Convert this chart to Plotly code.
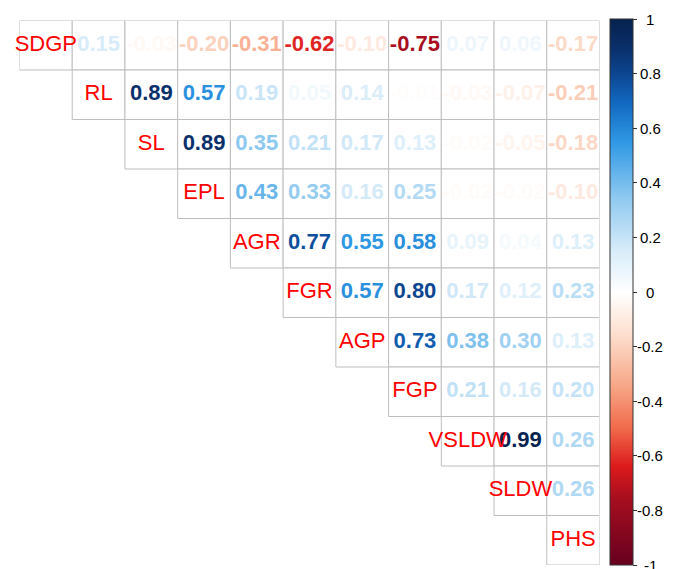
import plotly.graph_objects as go
from plotly.colors import sample_colorscale

# variable names (diagonal labels)
labels = ["SDGP", "RL", "SL", "EPL", "AGR", "FGR", "AGP", "FGP", "VSLDW", "SLDW", "PHS"]

# upper triangle correlations, one list per row (columns right of the diagonal)
r_sdgp = [0.15, -0.03, -0.20, -0.31, -0.62, -0.10, -0.75, 0.07, 0.06, -0.17]
r_rl = [0.89, 0.57, 0.19, 0.05, 0.14, -0.01, -0.03, -0.07, -0.21]
r_sl = [0.89, 0.35, 0.21, 0.17, 0.13, -0.02, -0.05, -0.18]
r_epl = [0.43, 0.33, 0.16, 0.25, -0.02, -0.02, -0.10]
r_agr = [0.77, 0.55, 0.58, 0.09, 0.04, 0.13]
r_fgr = [0.57, 0.80, 0.17, 0.12, 0.23]
r_agp = [0.73, 0.38, 0.30, 0.13]
r_fgp = [0.21, 0.16, 0.20]
r_vsldw = [0.99, 0.26]
r_sldw = [0.26]
rows = [r_sdgp, r_rl, r_sl, r_epl, r_agr, r_fgr, r_agp, r_fgp, r_vsldw, r_sldw]

cb_ticks = [1, 0.8, 0.6, 0.4, 0.2, 0, -0.2, -0.4, -0.6, -0.8, -1]
cb_text = ["1", "0.8", "0.6", "0.4", "0.2", "0", "-0.2", "-0.4", "-0.6", "-0.8", "-1"]

# red - white - blue ramp, picked off the colour bar and the numbers
cscale = [
    [0.000, "#67001F"],
    [0.120, "#A50E1F"],
    [0.180, "#DC1A1C"],
    [0.250, "#F06A4A"],
    [0.325, "#F7A585"],
    [0.425, "#FDE0D0"],
    [0.500, "#FFFFFF"],
    [0.575, "#D8ECF9"],
    [0.675, "#8CC8F0"],
    [0.775, "#2F98E4"],
    [0.850, "#1166BE"],
    [0.900, "#0C4590"],
    [0.950, "#0A2E68"],
    [1.000, "#06224F"],
]

# the page body has an 8px margin, so the figure is 8px smaller and
# every pixel position below is taken off by that much
OFF = 8
W, H = 673 - OFF, 569 - OFF
n = len(labels)
FONT = "Liberation Sans, Arial"

# plot area and colour bar box, in page pixels
GX0, GX1, GY0, GY1 = 19.5, 599.5, 20.5, 565
CB_L, CB_T, CB_B, CB_W = 610, 19, 565, 23


def px(x):
    return (x - OFF) / W


def py(y):
    return 1 - (y - OFF) / H


xs, ys, vals = [], [], []
for i, row in enumerate(rows):
    for k, v in enumerate(row):
        xs.append(i + 1 + k)
        ys.append(i)
        vals.append(v)
txt = ["%.2f" % v for v in vals]
cols = [sample_colorscale(cscale, (v + 1) / 2)[0] for v in vals]

fig = go.Figure()

# cell borders
for i in range(n):
    for j in range(i, n):
        fig.add_shape(type="rect", x0=j - 0.5, x1=j + 0.5, y0=i - 0.5, y1=i + 0.5,
                      line=dict(color="#BEBEBE", width=1), fillcolor="white",
                      layer="below")

fig.add_trace(go.Scatter(
    x=xs, y=ys, mode="text", text=txt, cliponaxis=False,
    textfont=dict(family=FONT, size=22, color=cols, weight="bold"),
    hoverinfo="skip", showlegend=False))

fig.add_trace(go.Scatter(
    x=list(range(n)), y=list(range(n)), mode="text", text=labels,
    cliponaxis=False,
    textfont=dict(family=FONT, size=22, color="red"),
    hoverinfo="skip", showlegend=False))

# invisible marker that only carries the colour bar
fig.add_trace(go.Scatter(
    x=[0], y=[0], mode="markers", hoverinfo="skip", showlegend=False,
    marker=dict(size=1, opacity=0, color=[0], cmin=-1, cmax=1,
                colorscale=cscale, showscale=True,
                colorbar=dict(
                    x=px(CB_L), xanchor="left", y=py(CB_T), yanchor="top",
                    len=(CB_B - CB_T) / H, lenmode="fraction",
                    thickness=CB_W, thicknessmode="pixels",
                    xpad=0, ypad=0, outlinewidth=1, outlinecolor="#333333",
                    tickvals=cb_ticks, ticktext=[""] * len(cb_ticks),
                    ticks="outside", ticklen=4, tickcolor="#333333"))))

# centred colour bar labels, like the R legend
for v, t in zip(cb_ticks, cb_text):
    ypix = CB_B - (v + 1) / 2 * (CB_B - CB_T)
    fig.add_annotation(x=px(650), y=py(ypix), xref="paper", yref="paper",
                       text=t, showarrow=False, xanchor="center", yanchor="middle",
                       font=dict(family=FONT, size=15, color="black"))

fig.update_layout(
    width=W, height=H,
    margin=dict(l=0, r=0, t=0, b=0, autoexpand=False),
    paper_bgcolor="white", plot_bgcolor="white",
    xaxis=dict(domain=[px(GX0), px(GX1)], range=[-0.5, n - 0.5],
               visible=False, fixedrange=True),
    yaxis=dict(domain=[py(GY1), py(GY0)], range=[n - 0.5, -0.5],
               visible=False, fixedrange=True),
)

fig.write_html("out.html")
